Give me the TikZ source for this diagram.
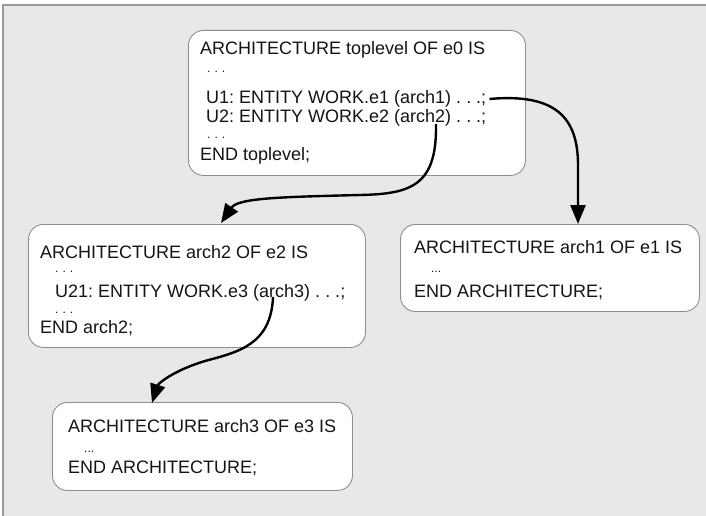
\documentclass[tikz,border=0pt]{standalone}
\usepackage{fontspec}
\setmainfont{Liberation Sans}
\usetikzlibrary{arrows.meta}
\definecolor{bgc}{HTML}{E8E8E8}
\definecolor{framec}{HTML}{9A9A9A}
\definecolor{boxline}{HTML}{8E8E8E}
\definecolor{txt}{HTML}{141414}
\tikzset{
  box/.style={draw=boxline, line width=0.9pt, fill=white, rounded corners=15pt,
    inner sep=0pt, anchor=north west},
  code/.style={anchor=base west, inner sep=0pt, text=txt,
    font=\fontsize{18}{22}\selectfont\frenchspacing},
  dots/.style={anchor=base west, inner sep=0pt, text=txt,
    font=\fontsize{12}{14}\selectfont},
  link/.style={line width=2.4pt, black, -{Triangle[length=19pt,width=15pt]}},
}
\begin{document}
\begin{tikzpicture}[x=1pt,y=-1pt]
\useasboundingbox (0,0) rectangle (706,516);
\fill[white] (0,0) rectangle (706,516);
\fill[bgc] (3,5) rectangle (706,516);
\draw[framec, line width=1.2pt] (3,516) -- (3,5) -- (706,5);

% boxes
\node[box, minimum width=337pt, minimum height=145pt] (top) at (188,30) {};
\node[box, minimum width=337pt, minimum height=123pt] (arch2box) at (28,224) {};
\node[box, minimum width=299pt, minimum height=87pt] (arch1box) at (400,224) {};
\node[box, minimum width=300pt, minimum height=88pt] (arch3box) at (52,402) {};

% top box text
\node[code] (t1) at (200,55) {ARCHITECTURE toplevel OF e0 IS};
\node[dots] (t2) at (207,73) {.\,\,.\,\,.};
\node[code] (t3) at (206,103) {U1: ENTITY WORK.e1 (arch1) . . .;};
\node[code] (t4) at (206,122) {U2: ENTITY WORK.e2 (arch2) . . .;};
\node[dots] (t5) at (207,138) {.\,\,.\,\,.};
\node[code] (t6) at (200,160) {END toplevel;};

% arch2 box text
\node[code] (b1) at (40,258) {ARCHITECTURE arch2 OF e2 IS};
\node[dots] (b2) at (55,272) {.\,\,.\,\,.};
\node[code] (b3) at (55,297) {U21: ENTITY WORK.e3 (arch3) . . .;};
\node[dots] (b4) at (55,313) {.\,\,.\,\,.};
\node[code] (b5) at (40,333) {END arch2;};

% arch1 box text
\node[code] (c1) at (414,253) {ARCHITECTURE arch1 OF e1 IS};
\node[dots] (c2) at (431,272) {...};
\node[code] (c3) at (414,297) {END ARCHITECTURE;};

% arch3 box text
\node[code] (d1) at (68,432) {ARCHITECTURE arch3 OF e3 IS};
\node[dots] (d2) at (84,452) {...};
\node[code] (d3) at (68,473) {END ARCHITECTURE;};

% connector endpoints
\coordinate (s1) at ([xshift=3pt,yshift=4pt]t3.base east);
\coordinate (e1) at (578,224);
\coordinate (s2) at (436,124);
\coordinate (e2) at (221,223);
\coordinate (s3) at (273,297);
\coordinate (e3) at (152,403);

\draw[link] (s1) .. controls (556,93) and (578,118) .. (578,165) -- (e1);
\draw[link] (s2) .. controls (437,185) and (412,194) .. (360,195)
  .. controls (280,197) and (238,198) .. (e2);
\draw[link] (s3) .. controls (271,345) and (238,352) .. (205,361)
  .. controls (172,371) and (158,384) .. (e3);
\end{tikzpicture}
\end{document}
